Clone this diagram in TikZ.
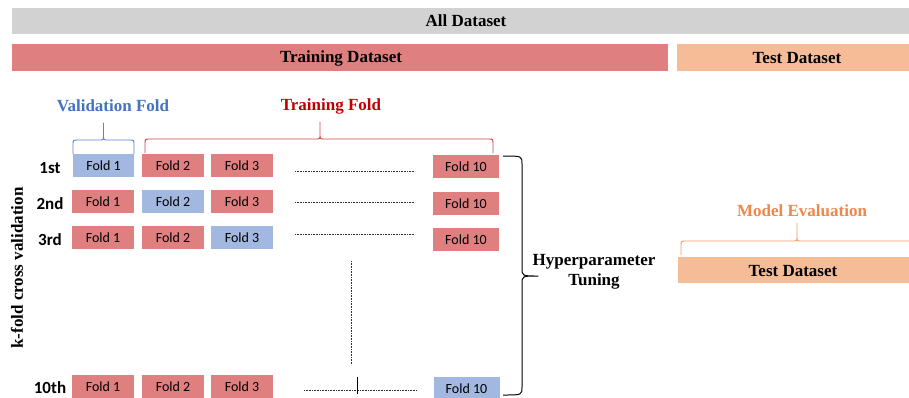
\documentclass[tikz,border=0pt]{standalone}
\usepackage{fontspec}
\setmainfont{Liberation Serif}
\newfontfamily\calfont{Carlito}
\definecolor{barGray}{HTML}{D2D2D2}
\definecolor{foldRed}{HTML}{E07F7F}
\definecolor{foldBlue}{HTML}{A3B8E0}
\definecolor{testOrange}{HTML}{F5BC97}
\definecolor{valBlue}{HTML}{4472C4}
\definecolor{trainRed}{HTML}{C00000}
\definecolor{evalOrange}{HTML}{F0874A}
\definecolor{braceBlue}{HTML}{5B86CF}
\definecolor{braceRed}{HTML}{D04848}
\definecolor{braceOrange}{HTML}{F29A62}
\definecolor{dotGray}{HTML}{303030}

% horizontal curly brace: colour, left x, right x, tip x, end y, line y, tip y
\newcommand\curlyh[7]{%
  \draw[#1, line width=0.9pt, line join=round]
    (#2,#5) -- ({#2},{#6+5}) .. controls (#2,#6) .. ({#2+5},#6)
    -- ({#4-4},#6) .. controls (#4,#6) .. (#4,{#6-5}) -- (#4,#7)
    -- (#4,{#6-5}) .. controls (#4,#6) .. ({#4+4},#6)
    -- ({#3-5},#6) .. controls (#3,#6) .. (#3,{#6+5}) -- (#3,#5);}

\begin{document}
\begin{tikzpicture}[x=1pt,y=-1pt,
  bartext/.style={font=\fontsize{17}{19}\selectfont\bfseries},
  foldbox/.style={inner sep=0pt, minimum height=23pt, font=\calfont\fontsize{14}{15}\selectfont},
  foldred/.style={foldbox, fill=foldRed},
  foldblue/.style={foldbox, fill=foldBlue},
  rowlab/.style={font=\calfont\fontsize{17}{19}\selectfont\bfseries},
  dotline/.style={dotGray, line width=0.9pt, dash pattern=on 0.8pt off 0.8pt},
]
\useasboundingbox[fill=white] (0,0) rectangle (909,397);
\clip (0,0) rectangle (909,397);

% dataset bars
\fill[barGray] (12,8) rectangle (909,34);
\node[bartext] (all) at (466,21) {All Dataset};
\fill[foldRed] (12,44) rectangle (668,71);
\node[bartext] (train) at (341,58) {Training Dataset};
\fill[testOrange] (677,44) rectangle (909,71);
\node[bartext] (test) at (797,58) {Test Dataset};

% fold labels with braces
\node[bartext, text=valBlue] (valfold) at (113,106) {Validation Fold};
\node[bartext, text=trainRed] (trainfold) at (331,106) {Training Fold};
\curlyh{braceBlue}{73}{134}{103.5}{154}{140}{123}
\curlyh{braceRed}{145}{493}{320}{153}{139}{122}

% row labels
\node[rowlab] (l1) at (50,168) {1st};
\node[rowlab] (l2) at (50,204) {2nd};
\node[rowlab] (l3) at (50,240) {3rd};
\node[rowlab] (l10) at (50,388) {10th};

% row 1
\node[foldblue, minimum width=61pt] (a1) at (103.5,165.5) {Fold 1};
\node[foldred, minimum width=62pt] (a2) at (173,165.5) {Fold 2};
\node[foldred, minimum width=62pt] (a3) at (242,165.5) {Fold 3};
\node[foldred, minimum width=66pt] (a10) at (466,166.5) {Fold 10};
% row 2
\node[foldred, minimum width=62pt] (b1) at (103,201.5) {Fold 1};
\node[foldblue, minimum width=62pt] (b2) at (173,201.5) {Fold 2};
\node[foldred, minimum width=62pt] (b3) at (242,201.5) {Fold 3};
\node[foldred, minimum width=66pt] (b10) at (466,203.5) {Fold 10};
% row 3
\node[foldred, minimum width=62pt] (c1) at (103,237.5) {Fold 1};
\node[foldred, minimum width=62pt] (c2) at (173,237.5) {Fold 2};
\node[foldblue, minimum width=62pt] (c3) at (242,237.5) {Fold 3};
\node[foldred, minimum width=66pt] (c10) at (466,239.5) {Fold 10};
% row 10
\node[foldred, minimum width=62pt] (d1) at (103,386.5) {Fold 1};
\node[foldred, minimum width=62pt] (d2) at (173,386.5) {Fold 2};
\node[foldred, minimum width=62pt] (d3) at (242,386.5) {Fold 3};
\node[foldblue, minimum width=66pt] (d10) at (466.5,388.5) {Fold 10};

% ellipsis dots
\coordinate (e1a) at (295,171.5); \coordinate (e1b) at (415,171.5);
\coordinate (e2a) at (295,202.5); \coordinate (e2b) at (415,202.5);
\coordinate (e3a) at (295,234.5); \coordinate (e3b) at (415,234.5);
\coordinate (e4a) at (304,390.5); \coordinate (e4b) at (417,390.5);
\coordinate (va) at (351.5,261); \coordinate (vb) at (351.5,365);
\draw[dotline] (e1a) -- (e1b);
\draw[dotline] (e2a) -- (e2b);
\draw[dotline] (e3a) -- (e3b);
\draw[dotline] (e4a) -- (e4b);
\draw[dotline] (va) -- (vb);
\coordinate (ta) at (357,377); \coordinate (tb) at (357,394);
\draw[black, line width=0.8pt] (ta) -- (tb);

% vertical axis label
\node[bartext, rotate=90] (kfold) at (17,268) {k-fold cross validation};

% hyperparameter tuning brace
\draw[black, line width=1pt, line join=round]
  (503,156) .. controls (522,156) .. (522,164) -- (522,268)
  .. controls (522,276) .. (538,276) .. controls (522,276) .. (522,284)
  -- (522,387) .. controls (522,395) .. (503,395);
\node[align=center, font=\fontsize{17}{20}\selectfont\bfseries] (hyper) at (594,272) {Hyperparameter\\Tuning};

% model evaluation on the test split
\node[bartext, text=evalOrange] (evallab) at (802,211) {Model Evaluation};
\curlyh{braceOrange}{681}{916}{797}{255}{241}{223}
\fill[testOrange] (678,257) rectangle (909,283);
\node[bartext] (test2) at (793,271) {Test Dataset};
\end{tikzpicture}
\end{document}
